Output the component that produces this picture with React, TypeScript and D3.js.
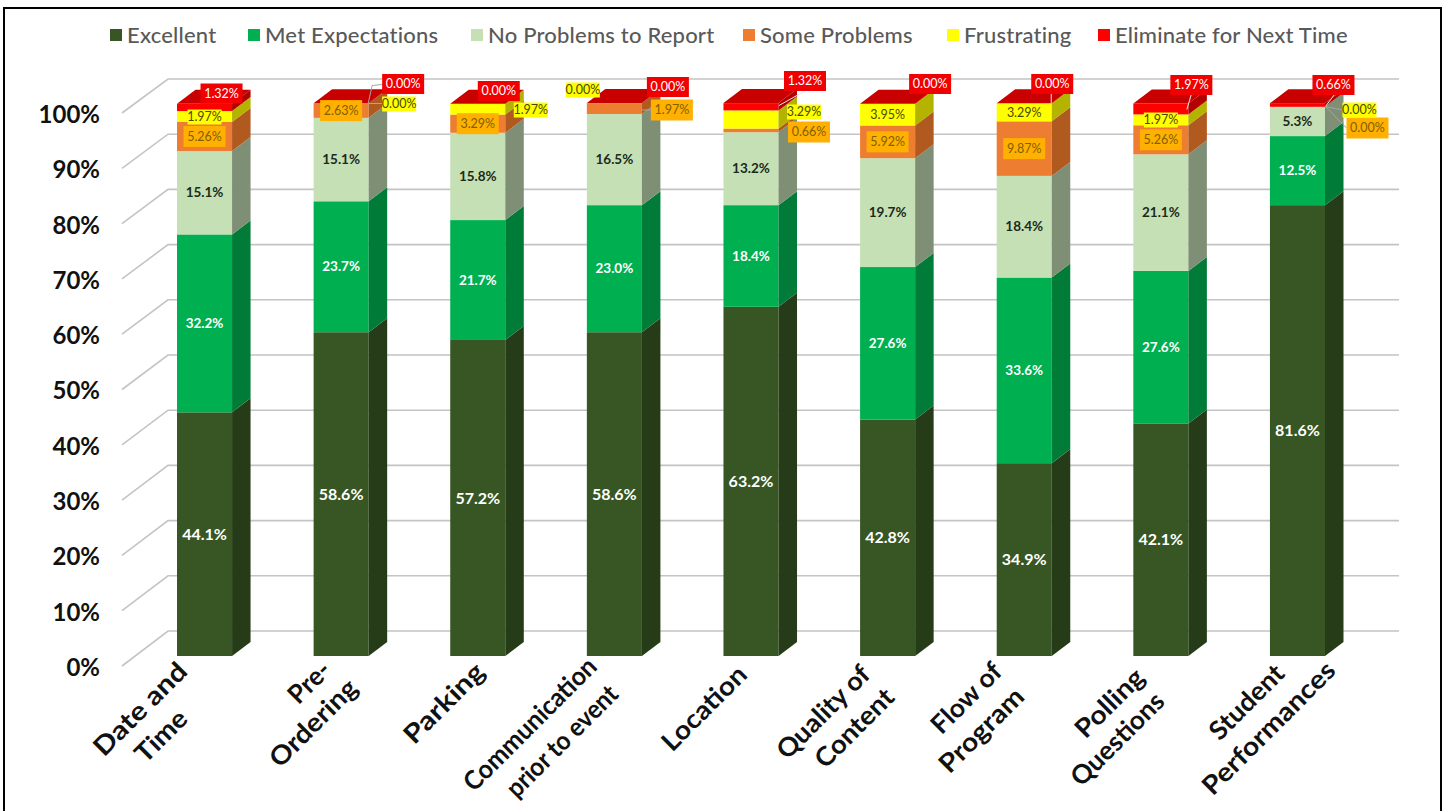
import { useEffect, useRef } from 'react';
import * as d3 from 'd3';

const categories = [
  'Date and|Time',
  'Pre-|Ordering',
  'Parking',
  'Communication|prior to event',
  'Location',
  'Quality of|Content',
  'Flow of|Program',
  'Polling|Questions',
  'Student|Performances',
];

const seriesNames = ['Excellent', 'Met Expectations', 'No Problems to Report', 'Some Problems', 'Frustrating', 'Eliminate for Next Time'];

const excellent = [44.1, 58.6, 57.2, 58.6, 63.2, 42.8, 34.9, 42.1, 81.6];
const metExpectations = [32.2, 23.7, 21.7, 23.0, 18.4, 27.6, 33.6, 27.6, 12.5];
const noProblems = [15.1, 15.1, 15.8, 16.5, 13.2, 19.7, 18.4, 21.1, 5.3];
const someProblems = [5.26, 2.63, 3.29, 1.97, 0.66, 5.92, 9.87, 5.26, 0];
const frustrating = [1.97, 0, 1.97, 0, 3.29, 3.95, 3.29, 1.97, 0];
const eliminate = [1.32, 0, 0, 0, 1.32, 0, 0, 1.97, 0.66];

const yTicks = [0, 10, 20, 30, 40, 50, 60, 70, 80, 90, 100];

const FONT = 'Lato, "Open Sans", sans-serif';

// front, side
const faces = [
  ['#375623', '#263c18'],
  ['#00b050', '#007b38'],
  ['#c5e0b4', '#7f8f75'],
  ['#ed7d31', '#b05a20'],
  ['#ffff00', '#b3b300'],
  ['#ff0000', '#b30000'],
];
const TOP_FACE = '#c80000';

const labelStyles = [
  { fill: '#ffffff', size: 16, box: null, w: 0, h: 0 },
  { fill: '#ffffff', size: 13.5, box: null, w: 0, h: 0 },
  { fill: '#1b2a1b', size: 13.5, box: null, w: 0, h: 0 },
  { fill: '#7f6000', size: 12.5, box: '#ffb000', w: 42, h: 21 },
  { fill: '#4a4a00', size: 12.5, box: '#ffff00', w: 34, h: 15 },
  { fill: '#ffffff', size: 12.5, box: '#f00000', w: 42, h: 20 },
];

// callouts moved off their segment: [series, category, dx from bar centre, dy from bar top]
const moved: [number, number, number, number][] = [
  [5, 0, 17, -10], [5, 1, 62, -19.5], [5, 2, 21, -12.5], [5, 3, 53.5, -16.5], [5, 4, 54, -22.5],
  [5, 5, 42.5, -19.5], [5, 6, 28, -19.5], [5, 7, 30.5, -18.5], [5, 8, 36, -18.5],
  [4, 0, 0, 13.5], [4, 1, 58, 0.5], [4, 2, 53, 6.5], [4, 3, -31.5, -13.5], [4, 4, 53, 8.5], [4, 7, 0, 16.5], [4, 8, 62, 6.5],
  [3, 3, 57.5, 6.5], [3, 4, 58, 28.5], [3, 8, 70, 24.5],
];

// leader lines: [category, colour, points as dx from bar centre / dy from bar top]
const leaders: [number, string, [number, number][]][] = [
  [1, '#a6a6a6', [[27, 0], [41, 0]]],
  [1, '#a6a6a6', [[27, 0], [31, -18], [41, -19]]],
  [3, '#a6a6a6', [[27, 6.5], [37, 6.5]]],
  [4, '#e8e8e8', [[28, 2], [53, -12]]],
  [6, '#e8e8e8', [[27, 0], [27, -10]]],
  [7, '#e8e8e8', [[26, 6], [31, -11]]],
  [8, '#e8e8e8', [[28, 3], [37, -9]]],
  [8, '#a6a6a6', [[28, 3], [45, 6.5]]],
  [8, '#a6a6a6', [[28, 3], [49, 24.5]]],
];

// rotated axis text, per line: [dx from bar centre, y of line centre, text length]
const axisLayout: [number, number, number][][] = [
  [[-64.5, 709, 120], [-43.5, 736, 62]],
  [[-32, 682, 48], [-28, 723, 112]],
  [[-34, 703, 102]],
  [[-84.5, 724, 176], [-52.5, 741, 146]],
  [[-47, 708, 108]],
  [[-64.5, 712, 120], [-33.5, 728, 100]],
  [[-58, 698, 88], [-43, 730, 108]],
  [[-51.5, 703, 86], [-43.5, 739, 120]],
  [[-51, 702, 94], [-29, 728, 176]],
];

const legendX = [110, 248, 471, 743, 947, 1098];

const DX = 18.5;
const DY = -14;

export default function App() {
  const svgRef = useRef<SVGSVGElement>(null);

  useEffect(() => {
    if (!svgRef.current) return;
    const svg = d3.select(svgRef.current);
    svg.selectAll('*').remove();

    const x = d3.scaleBand<number>().domain(d3.range(categories.length)).range([177, 1325]).paddingInner(0.597).paddingOuter(0);
    const y = d3.scaleLinear().domain([0, 100]).range([656, 103.5]);
    const wallY = d3.scaleLinear().domain([0, 100]).range([631, 79]);
    const sideY = d3.scaleLinear().domain([0, 100]).range([666, 113]);

    // frame
    svg.append('rect').attr('x', 4).attr('y', 8).attr('width', 1437).attr('height', 830)
      .attr('fill', '#fff').attr('stroke', '#000').attr('stroke-width', 2);

    // grid
    const grid = svg.append('g').attr('stroke', '#c4c4c4').attr('stroke-width', 1.6).attr('fill', 'none');
    yTicks.forEach(t => {
      grid.append('path').attr('d', `M122,${sideY(t)}L168,${wallY(t)}L1399,${wallY(t)}`);
    });

    svg.append('g').selectAll('text').data(yTicks).enter().append('text')
      .attr('x', 100).attr('y', d => sideY(d) + 1.5).attr('dy', '0.35em')
      .attr('text-anchor', 'end').attr('font-family', FONT).attr('font-size', 24).attr('font-weight', 700)
      .attr('fill', '#111').text(d => `${d}%`);

    const values = [excellent, metExpectations, noProblems, someProblems, frustrating, eliminate];
    const w = x.bandwidth();

    // stacked 3d bars
    categories.forEach((_, c) => {
      const g = svg.append('g');
      const x0 = x(c)!;
      const x1 = x0 + w;
      let sum = 0;
      values.forEach((vals, s) => {
        const b = y(sum);
        sum += vals[c];
        const t = y(sum);
        if (vals[c] > 0) {
          g.append('rect').attr('x', x0).attr('y', t).attr('width', w).attr('height', b - t).attr('fill', faces[s][0]);
          g.append('path').attr('d', `M${x1},${b}L${x1 + DX},${b + DY}L${x1 + DX},${t + DY}L${x1},${t}Z`).attr('fill', faces[s][1]);
        }
      });
      const t = y(sum);
      g.append('path').attr('d', `M${x0},${t}L${x0 + DX},${t + DY}L${x1 + DX},${t + DY}L${x1},${t}Z`).attr('fill', TOP_FACE);
    });

    // leaders
    const lineGen = d3.line();
    leaders.forEach(([c, color, pts]) => {
      const cx = x(c)! + w / 2;
      svg.append('path')
        .attr('d', lineGen(pts.map(p => [cx + p[0], y(100) + p[1]] as [number, number])))
        .attr('fill', 'none').attr('stroke', color).attr('stroke-width', 1);
    });

    // data labels
    const fmt = (s: number, v: number) => (s < 3 ? `${v.toFixed(1)}%` : `${v.toFixed(2)}%`);
    values.forEach((vals, s) => {
      const st = labelStyles[s];
      vals.forEach((v, c) => {
        const below = d3.sum(values.slice(0, s), a => a[c]);
        const m = moved.find(q => q[0] === s && q[1] === c);
        const cx = x(c)! + w / 2 + (m ? m[2] : 0);
        const cy = m ? y(100) + m[3] : y(below + v / 2);
        if (st.box) {
          svg.append('rect').attr('x', cx - st.w / 2).attr('y', cy - st.h / 2).attr('width', st.w).attr('height', st.h).attr('fill', st.box);
        }
        svg.append('text').attr('x', cx).attr('y', cy).attr('dy', '0.35em')
          .attr('text-anchor', 'middle').attr('font-family', FONT).attr('font-size', st.size)
          .attr('font-weight', s < 3 ? 700 : 400).attr('fill', st.fill).text(fmt(s, v));
      });
    });

    // category labels
    categories.forEach((label, c) => {
      label.split('|').forEach((line, i) => {
        const [dx, ly, len] = axisLayout[c][i];
        svg.append('text')
          .attr('transform', `translate(${x(c)! + w / 2 + dx},${ly}) rotate(-45)`)
          .attr('dy', '0.35em').attr('text-anchor', 'middle')
          .attr('font-family', FONT).attr('font-size', 26).attr('font-weight', 700).attr('fill', '#111')
          .attr('textLength', len).attr('lengthAdjust', 'spacingAndGlyphs')
          .text(line);
      });
    });

    // legend
    seriesNames.forEach((name, i) => {
      svg.append('rect').attr('x', legendX[i]).attr('y', 29).attr('width', 12).attr('height', 12).attr('fill', faces[i][0]);
      svg.append('text').attr('x', legendX[i] + 17).attr('y', 35).attr('dy', '0.35em')
        .attr('font-family', FONT).attr('font-size', 22).attr('font-weight', 500).attr('letter-spacing', 0.2)
        .attr('fill', '#595959').text(name);
    });
  }, []);

  return <svg ref={svgRef} width={1443} height={811} style={{ position: 'absolute', left: 0, top: 0, background: '#fff' }} />;
}
